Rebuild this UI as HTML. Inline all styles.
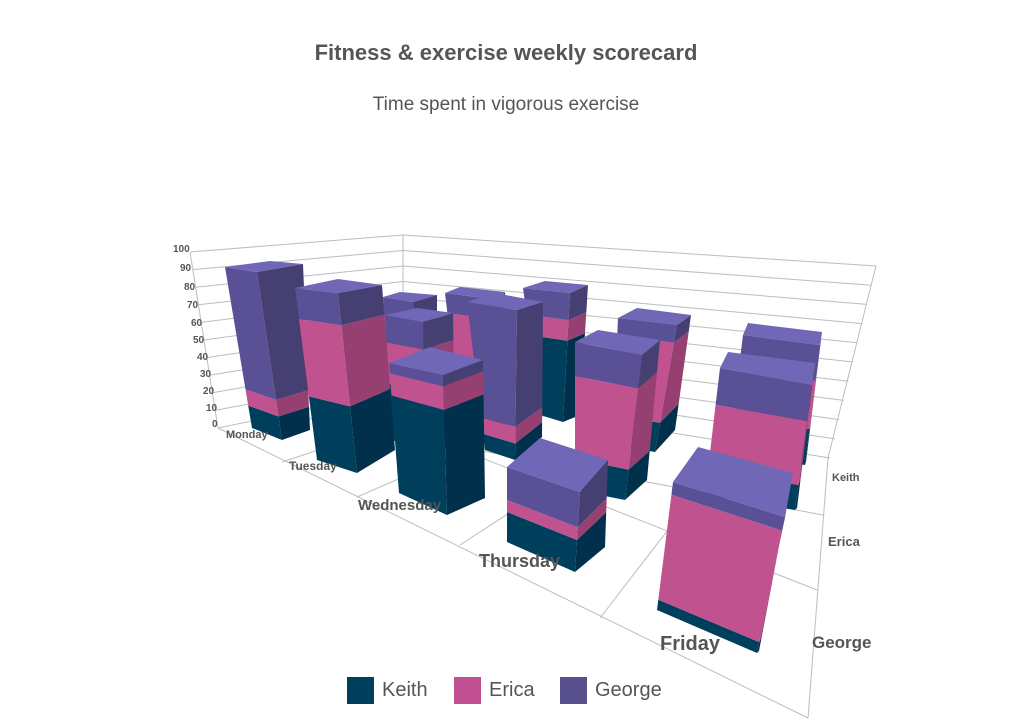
<!DOCTYPE html>
<html><head><meta charset="utf-8"><style>
body{margin:0;background:#fff;width:1009px;height:724px;overflow:hidden}
svg{display:block;font-family:"Liberation Sans",sans-serif}
</style></head><body>
<svg id="s" width="1009" height="724" viewBox="0 0 1009 724" xmlns="http://www.w3.org/2000/svg">
<text x="506" y="60" text-anchor="middle" font-size="22" font-weight="bold" fill="#555">Fitness &amp; exercise weekly scorecard</text>
<text x="506" y="110" text-anchor="middle" font-size="19" fill="#555">Time spent in vigorous exercise</text>
<g id="grid" stroke="#bdbdbd" stroke-width="1" fill="none"></g>
<g id="bars"></g>
<g fill="#555" font-weight="bold" font-size="10">
<text x="173" y="252">100</text><text x="180" y="271">90</text><text x="184" y="290">80</text><text x="187" y="308">70</text><text x="191" y="326">60</text><text x="193" y="343">50</text><text x="197" y="360">40</text><text x="200" y="377">30</text><text x="203" y="394">20</text><text x="206" y="411">10</text><text x="212" y="427">0</text>
</g>
<g fill="#555" font-weight="bold">
<text x="226" y="438" font-size="11">Monday</text>
<text x="289" y="470" font-size="12">Tuesday</text>
<text x="358" y="510" font-size="15">Wednesday</text>
<text x="479" y="567" font-size="18">Thursday</text>
<text x="660" y="650" font-size="20">Friday</text>
<text x="832" y="481" font-size="11">Keith</text>
<text x="828" y="546" font-size="13">Erica</text>
<text x="812" y="648" font-size="17">George</text>
</g>
<rect x="347" y="677" width="27" height="27" fill="#003f5c"/><text x="382" y="696" font-size="20" fill="#555">Keith</text>
<rect x="454" y="677" width="27" height="27" fill="#c0508f"/><text x="489" y="696" font-size="20" fill="#555">Erica</text>
<rect x="560" y="677" width="27" height="27" fill="#58508d"/><text x="595" y="696" font-size="20" fill="#555">George</text>
</svg>
<script>
var NS="http://www.w3.org/2000/svg";
function el(p,t,a){var e=document.createElementNS(NS,t);for(var k in a)e.setAttribute(k,a[k]);p.appendChild(e);return e;}
var g=document.getElementById('grid');
function L(a,b){el(g,'line',{x1:a[0],y1:a[1],x2:b[0],y2:b[1]});}
for(var k=0;k<=10;k++){
 var yl=252+17.6*(10-k);
 var bk=[403,235+15.5*(10-k)];
 var rt=[876-4.6*(10-k),266+19.2*(10-k)];
 L([190+2.8*(10-k),yl],bk);L(bk,rt);
}
L([403,235],[403,390]);L([876,266],[828,458]);L([190,252],[218,428]);
L([218,428],[808,718]);L([828,458],[808,718]);
L([282,462],[470,400]);L([357,497],[550,413]);L([460,545],[640,428]);L([600,618],[735,443]);
L([823,515],[280,413]);L([817,590],[340,402]);
var b=document.getElementById('bars');
var C={k:['#003f5c','#00304b'],e:['#c05290','#954070'],g:['#5a5096','#463f72']};
function lerp(a,c,t){return [a[0]+(c[0]-a[0])*t,a[1]+(c[1]-a[1])*t];}
function P(pts,f){el(b,'polygon',{points:pts.map(function(p){return p[0].toFixed(1)+','+p[1].toFixed(1)}).join(' '),fill:f});}
function bar(TL,TR,BR,BL,ST,SB,TB,e,kk){
 var segs=[['k',0,kk],['e',kk,e],['g',e,1]];
 segs.forEach(function(s){
  if(s[2]-s[1]<=0)return;
  var l0=lerp(BL,TL,s[1]),l1=lerp(BL,TL,s[2]),r0=lerp(BR,TR,s[1]),r1=lerp(BR,TR,s[2]);
  var o0=lerp(SB,ST,s[1]),o1=lerp(SB,ST,s[2]);
  P([l1,r1,r0,l0],C[s[0]][0]);
  P([r1,o1,o0,r0],C[s[0]][1]);
 });
 P([TL,TR,ST,TB],'#7068b6');
}
bar([383,297],[413,302],[418,435],[390,430],[437,295],[437,425],[400,292],0.86,0.5);
bar([445,293],[500,300],[505,425],[460,420],[505,292],[510,420],[460,287],0.84,0.5);
bar([523,288],[570,293],[563,422],[540,415],[588,285],[580,415],[545,281],0.79,0.63);
bar([618,318],[677,325],[655,452],[612,445],[691,315],[675,430],[637,308],0.86,0.23);
bar([743,335],[820,345],[805,465],[728,455],[822,332],[806,462],[748,323],0.7,0.3);
bar([385,315],[423,322],[425,447],[390,440],[453,313],[455,437],[417,308],0.78,0.45);
bar([467,302],[517,310],[515,460],[485,450],[543,302],[542,437],[495,293],0.22,0.11);
bar([575,342],[642,355],[625,500],[575,490],[660,340],[647,480],[598,330],0.77,0.21);
bar([720,368],[812,385],[795,510],[705,495],[815,363],[797,508],[728,352],0.71,0.2);
bar([225,267],[257,272],[282,440],[252,428],[303,264],[310,430],[270,261],0.24,0.14);
bar([295,288],[338,293],[357,473],[317,460],[382,285],[395,450],[338,279],0.82,0.37);
bar([389,363],[443,375],[447,515],[399,493],[483,360],[485,498],[430,347],0.92,0.75);
bar([507,467],[580,492],[575,572],[507,542],[608,460],[605,547],[540,438],0.56,0.4);
bar([673,482],[785,517],[757,653],[657,610],[793,473],[759,651],[698,447],0.90,0.08);
</script>
</body></html>
